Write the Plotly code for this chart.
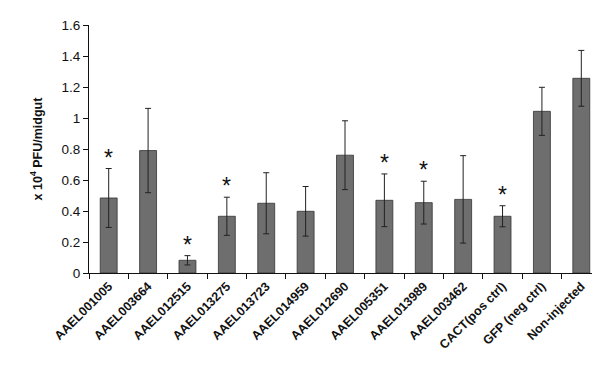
import plotly.graph_objects as go

categories = ["AAEL001005", "AAEL003664", "AAEL012515", "AAEL013275", "AAEL013723",
              "AAEL014959", "AAEL012690", "AAEL005351", "AAEL013989", "AAEL003462",
              "CACT(pos ctrl)", "GFP (neg ctrl)", "Non-injected"]
values = [0.484, 0.79, 0.082, 0.366, 0.45, 0.398, 0.76, 0.469, 0.454, 0.475, 0.366, 1.043, 1.256]
errors = [0.19, 0.272, 0.03, 0.123, 0.197, 0.16, 0.222, 0.17, 0.138, 0.282, 0.068, 0.155, 0.18]
significant = [True, False, True, True, False, False, False, True, True, False, True, False, False]
y_ticks = [0, 0.2, 0.4, 0.6, 0.8, 1, 1.2, 1.4, 1.6]
y_tick_labels = ["0", "0.2", "0.4", "0.6", "0.8", "1", "1.2", "1.4", "1.6"]

fig = go.Figure()
fig.add_trace(go.Bar(
    x=categories, y=values,
    marker=dict(color="#6e6e6e", line=dict(color="#333333", width=0.8)),
    error_y=dict(type="data", array=errors, visible=True, color="#222222",
                 thickness=1, width=3),
))

for cat, v, e, s in zip(categories, values, errors, significant):
    if s:
        fig.add_annotation(x=cat, y=v + e, text="*", showarrow=False,
                           yanchor="bottom", yshift=-4,
                           font=dict(family="Liberation Sans, Arial", size=23, color="#111111"))

fig.update_layout(
    width=600, height=366,
    margin=dict(l=81, r=7, t=17, b=101),
    plot_bgcolor="white", paper_bgcolor="white",
    showlegend=False,
    bargap=0.57,
    font=dict(family="Liberation Sans, Arial", color="#111111"),
)
fig.update_xaxes(
    type="category", range=[-0.5, 12.5],
    showline=True, linecolor="#111111", linewidth=1.2,
    ticks="outside", tickson="boundaries", ticklen=5, tickcolor="#111111", tickwidth=1.2,
    tickangle=-45, tickfont=dict(family="Liberation Sans, Arial", size=12.5, color="#111111",
                                 weight="bold"),
    automargin=False, showgrid=False,
)
fig.update_yaxes(
    range=[0, 1.6], tickvals=y_ticks, ticktext=y_tick_labels,
    showline=True, linecolor="#111111", linewidth=1.2,
    ticks="outside", ticklen=5, tickcolor="#111111", tickwidth=1.2,
    tickfont=dict(family="Liberation Sans, Arial", size=13.5, color="#111111"),
    title=dict(text="x 10<sup>4</sup> PFU/midgut", standoff=16,
               font=dict(family="Liberation Sans, Arial", size=12.5, color="#111111",
                         weight="bold")),
    showgrid=False, zeroline=False, automargin=False,
)

fig.write_html("out.html")
